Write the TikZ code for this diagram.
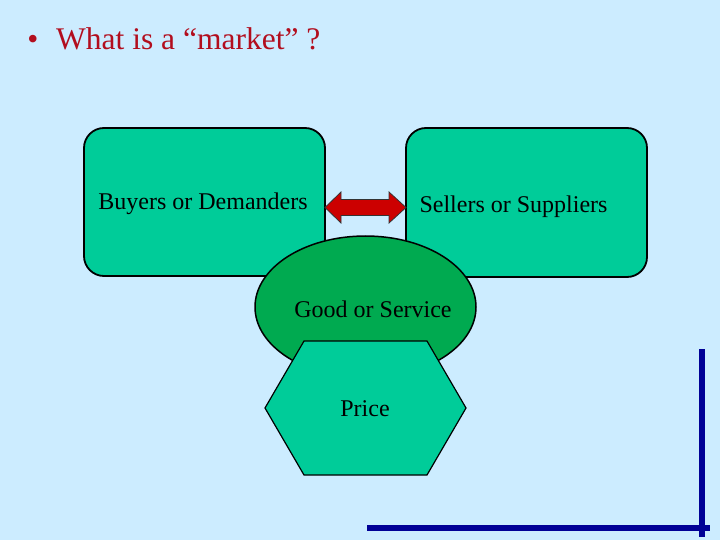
\documentclass[tikz,border=0pt]{standalone}
\usepackage{fontspec}
\setmainfont{Liberation Serif}
\usetikzlibrary{shapes.geometric}
\definecolor{bgblue}{RGB}{204,236,255}
\definecolor{teal}{RGB}{0,204,153}
\definecolor{dgreen}{RGB}{0,170,80}
\definecolor{titlered}{RGB}{178,14,30}
\definecolor{arrowred}{RGB}{204,0,0}
\definecolor{navy}{RGB}{0,0,150}
\tikzset{
  boxstyle/.style={draw=black, line width=1.8pt, fill=teal, rounded corners=20pt, inner sep=0pt},
  lbl/.style={font=\fontsize{24}{28}\selectfont, text=black, anchor=base, inner sep=0pt},
  navyline/.style={draw=navy, line width=6pt},
}
\begin{document}
\begin{tikzpicture}[x=1pt,y=-1pt]
\fill[bgblue] (0,0) rectangle (720,540);
\useasboundingbox (0,0) rectangle (720,540);
% title
\node[anchor=base, inner sep=0pt, text=titlered, font=\fontsize{31.5}{38}\selectfont] (bullet) at (33,50) {•};
\node[anchor=base west, inner sep=0pt, text=titlered, font=\fontsize{31.5}{38}\selectfont] (title) at (56,50) {What is a “market” ?};
% boxes
\node[boxstyle, minimum width=241pt, minimum height=148pt] (buyers) at (204.5,202) {};
\node[boxstyle, minimum width=241pt, minimum height=149pt] (sellers) at (526.5,202.5) {};
\node[lbl] (buyerstext) at (203,210) {Buyers or Demanders};
\node[lbl] (sellerstext) at (513.5,212) {Sellers or Suppliers};
% ellipse
\node[ellipse, draw=black, line width=1.5pt, fill=dgreen, minimum width=221pt, minimum height=142pt, inner sep=0pt] (good) at (365.5,307) {};
\node[lbl] (goodtext) at (373,317) {Good or Service};
% hexagon
\coordinate (h1) at (304,341);
\coordinate (h2) at (427,341);
\coordinate (h3) at (466,408);
\coordinate (h4) at (427,475);
\coordinate (h5) at (304,475);
\coordinate (h6) at (265,408);
\filldraw[fill=teal, draw=black, line width=1.2pt, line join=miter] (h1) -- (h2) -- (h3) -- (h4) -- (h5) -- (h6) -- cycle;
\node[lbl] (price) at (365,416) {Price};
% double arrow
\filldraw[fill=arrowred, draw=black!80, line width=0.8pt, line join=miter]
  (325,207.5) -- (341,192) -- (341,199.5) -- (389,199.5) -- (389,192) -- (406,207.5)
  -- (389,223) -- (389,215.5) -- (341,215.5) -- (341,223) -- cycle;
% navy lines
\draw[navyline] (702,349) -- (702,537);
\draw[navyline] (367,528) -- (710,528);
\end{tikzpicture}
\end{document}
